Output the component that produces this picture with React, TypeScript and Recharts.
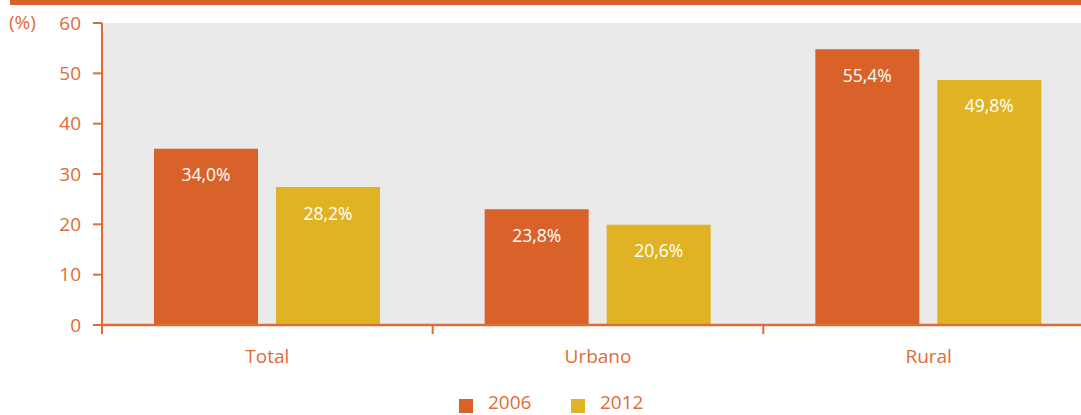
import React from 'react';
import { BarChart, Bar, XAxis, YAxis, CartesianGrid, LabelList } from 'recharts';

const categories = ['Total', 'Urbano', 'Rural'];
// bar heights as drawn in the picture
const bars2006 = [35.0, 23.0, 54.8];
const bars2012 = [27.4, 19.9, 48.7];
// printed labels
const labels2006 = ['34,0%', '23,8%', '55,4%'];
const labels2012 = ['28,2%', '20,6%', '49,8%'];
const yTicks = [0, 10, 20, 30, 40, 50, 60];

const ORANGE = '#D9622A';
const GOLD = '#E0B324';
const TEXT = '#E06B36';
const FONT = '"Open Sans", sans-serif';
const X_MARGIN = 25;

const data = categories.map((name, i) => ({
  name,
  y2006: bars2006[i],
  y2012: bars2012[i],
  l2006: labels2006[i],
  l2012: labels2012[i],
}));

const labelStyle = { fill: '#fff', fontSize: 17.5, fontFamily: FONT };

// category label plus tick marks on the category edges
const CategoryTick = (props: any) => {
  const { x, y, payload, index, visibleTicksCount } = props;
  const half = payload?.offset ?? 0;
  const axisY = y - X_MARGIN;
  const last = index === (visibleTicksCount ?? categories.length) - 1;
  return (
    <g>
      <line x1={x - half} x2={x - half} y1={axisY} y2={axisY + 9} stroke={TEXT} strokeWidth={2} />
      {last && <line x1={x + half} x2={x + half} y1={axisY} y2={axisY + 9} stroke={TEXT} strokeWidth={2} />}
      <text x={x} y={y} dy="0.71em" textAnchor="middle" fill={TEXT} fontSize={19} fontFamily={FONT}>
        {payload.value}
      </text>
    </g>
  );
};

const App: React.FC = () => {
  return (
    <div
      style={{
        position: 'absolute',
        left: 0,
        top: 0,
        width: 1081,
        height: 415,
        overflow: 'hidden',
        background: '#fff',
        fontFamily: FONT,
      }}
    >
      {/* top band */}
      <div style={{ position: 'absolute', left: 10, top: 0, width: 1071, height: 5, background: ORANGE }} />
      <div style={{ position: 'absolute', left: 9, top: 8, fontSize: 19, lineHeight: '28px', color: TEXT }}>(%)</div>

      <BarChart
        width={1100}
        height={415}
        data={data}
        margin={{ top: 23, right: 6, left: 0, bottom: 50 }}
        barSize={104}
        barGap={18}
      >
        <CartesianGrid horizontal={false} vertical={false} fill="#EAEAEA" />
        <XAxis
          dataKey="name"
          height={40}
          axisLine={{ stroke: TEXT, strokeWidth: 2.5 }}
          tickLine={false}
          tickSize={0}
          tickMargin={X_MARGIN}
          tick={<CategoryTick />}
        />
        <YAxis
          width={102}
          domain={[0, 60]}
          ticks={yTicks}
          tickSize={9}
          tickMargin={12}
          axisLine={{ stroke: TEXT, strokeWidth: 2 }}
          tickLine={{ stroke: TEXT, strokeWidth: 2 }}
          tick={{ fill: TEXT, fontSize: 19, fontFamily: FONT }}
        />
        <Bar dataKey="y2006" fill={ORANGE} isAnimationActive={false}>
          <LabelList dataKey="l2006" position="insideTop" offset={20} style={labelStyle} />
        </Bar>
        <Bar dataKey="y2012" fill={GOLD} isAnimationActive={false}>
          <LabelList dataKey="l2012" position="insideTop" offset={20} style={labelStyle} />
        </Bar>
      </BarChart>

      {/* legend */}
      <div style={{ position: 'absolute', left: 459, top: 399, width: 14, height: 14, background: ORANGE }} />
      <div style={{ position: 'absolute', left: 488, top: 390, fontSize: 19, lineHeight: '25px', color: TEXT }}>2006</div>
      <div style={{ position: 'absolute', left: 571, top: 399, width: 14, height: 14, background: GOLD }} />
      <div style={{ position: 'absolute', left: 600, top: 390, fontSize: 19, lineHeight: '25px', color: TEXT }}>2012</div>
    </div>
  );
};

export default App;
